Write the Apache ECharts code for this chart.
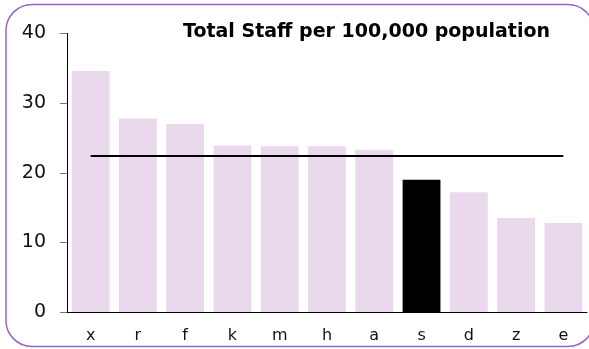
<!DOCTYPE html>
<html>
<head>
<meta charset="utf-8">
<style>
  html, body { margin: 0; padding: 0; background: #ffffff; }
  #chart { width: 589px; height: 349px; }
</style>
<script src="https://cdn.jsdelivr.net/npm/echarts@6/dist/echarts.min.js"></script>
</head>
<body>
<div id="chart"></div>
<script>
// Staff per 100,000 population by area, with the overall average line
const categories = ['x', 'r', 'f', 'k', 'm', 'h', 'a', 's', 'd', 'z', 'e'];
const staffValues = [34.6, 27.8, 27.0, 23.9, 23.8, 23.8, 23.3, 19.0, 17.2, 13.5, 12.8];
const averageValue = 22.4;
const highlightCategory = 's';
const titleText = 'Total Staff per 100,000 population';

const barColor = '#ead9ec';
const highlightColor = '#000000';

const chart = echarts.init(document.getElementById('chart'), null, { renderer: 'canvas' });

const barData = staffValues.map((v, i) => ({
  value: v,
  itemStyle: { color: categories[i] === highlightCategory ? highlightColor : barColor }
}));
const averageData = categories.map(() => averageValue);

chart.setOption({
  animation: false,
  backgroundColor: '#ffffff',
  title: {
    text: titleText,
    right: 34,
    top: 18,
    textStyle: {
      fontFamily: 'DejaVu Sans',
      fontWeight: 'bold',
      fontSize: 19,
      color: '#000000'
    }
  },
  graphic: [{
    type: 'rect',
    silent: true,
    z: -10,
    shape: { x: 6, y: 4.5, width: 588, height: 342, r: 26 },
    style: { fill: 'none', stroke: '#9466c4', lineWidth: 1.5 }
  }],
  grid: { left: 67, right: 2, top: 33.5, bottom: 37, containLabel: false },
  xAxis: {
    type: 'category',
    data: categories,
    axisLine: { show: true, lineStyle: { color: '#000000', width: 1 } },
    axisTick: { show: false },
    axisLabel: {
      margin: 16,
      fontFamily: 'DejaVu Sans',
      fontSize: 16,
      color: '#111111'
    }
  },
  yAxis: {
    type: 'value',
    min: 0,
    max: 40,
    interval: 10,
    splitLine: { show: false },
    axisLine: { show: true, lineStyle: { color: '#000000', width: 1 } },
    axisTick: { show: true, length: 7, inside: false, lineStyle: { color: '#777777' } },
    axisLabel: {
      margin: 21,
      fontFamily: 'DejaVu Sans',
      fontSize: 19,
      color: '#111111'
    }
  },
  series: [
    {
      type: 'bar',
      data: barData,
      barCategoryGap: '20%',
      z: 2
    },
    {
      type: 'line',
      data: averageData,
      symbol: 'none',
      lineStyle: { color: '#000000', width: 2 },
      z: 3
    }
  ]
});
</script>
</body>
</html>
